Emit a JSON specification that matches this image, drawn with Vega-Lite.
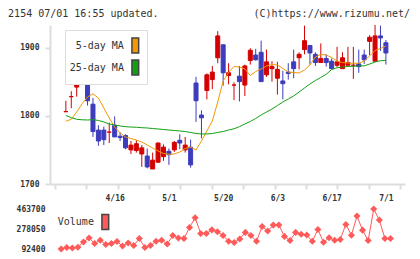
{
  "$schema": "https://vega.github.io/schema/vega-lite/v6.json",
  "background": "white",
  "padding": {"left": 8, "top": 8, "right": 10, "bottom": 5},
  "config": {
    "view": {"stroke": null},
    "font": "DejaVu Sans Mono",
    "axis": {"labelFont": "DejaVu Sans Mono", "labelFontSize": 8, "labelFontWeight": "bold", "labelColor": "#333333", "domainColor": "#dddddd", "tickColor": "#dddddd", "domainWidth": 2, "tickWidth": 2, "grid": false},
    "title": {"font": "DejaVu Sans Mono", "fontSize": 10, "fontWeight": "normal", "color": "#333333"},
    "legend": {"labelFont": "DejaVu Sans Mono", "labelFontSize": 10, "labelColor": "#333333"}
  },
  "title": {"text": "2154 07/01 16:55 updated.", "anchor": "start", "frame": "bounds", "dx": -8, "offset": -10},
  "spacing": 3,
  "resolve": {"scale": {"x": "independent", "y": "independent", "color": "independent"}},
  "datasets": {
    "candles": [
      {"i":0,"d":"4/3","o":1806,"h":1822,"l":1806,"c":1806,"vol":92400},
      {"i":1,"d":"4/6","o":1828,"h":1836,"l":1811,"c":1828,"vol":105500},
      {"i":2,"d":"4/7","o":1842,"h":1852,"l":1828,"c":1845,"vol":101800},
      {"i":3,"d":"4/8","o":1867,"h":1871,"l":1851,"c":1853,"vol":108300},
      {"i":4,"d":"4/9","o":1852,"h":1861,"l":1815,"c":1822,"vol":157900},
      {"i":5,"d":"4/10","o":1817,"h":1826,"l":1769,"c":1777,"vol":195300},
      {"i":6,"d":"4/13","o":1779,"h":1786,"l":1756,"c":1763,"vol":142900},
      {"i":7,"d":"4/14","o":1779,"h":1784,"l":1757,"c":1765,"vol":173800},
      {"i":8,"d":"4/15","o":1776,"h":1790,"l":1760,"c":1776,"vol":133600},
      {"i":9,"d":"4/16","o":1786,"h":1799,"l":1769,"c":1769,"vol":142900},
      {"i":10,"d":"4/17","o":1770,"h":1776,"l":1763,"c":1768,"vol":161600},
      {"i":11,"d":"4/20","o":1771,"h":1773,"l":1751,"c":1753,"vol":120500},
      {"i":12,"d":"4/21","o":1750,"h":1763,"l":1744,"c":1757,"vol":148500},
      {"i":13,"d":"4/22","o":1749,"h":1764,"l":1746,"c":1759,"vol":124200},
      {"i":14,"d":"4/23","o":1744,"h":1757,"l":1725,"c":1753,"vol":189700},
      {"i":15,"d":"4/24","o":1741,"h":1752,"l":1723,"c":1725,"vol":105500},
      {"i":16,"d":"4/27","o":1722,"h":1746,"l":1722,"c":1735,"vol":124200},
      {"i":17,"d":"4/28","o":1732,"h":1761,"l":1731,"c":1760,"vol":164400},
      {"i":18,"d":"4/30","o":1740,"h":1758,"l":1734,"c":1754,"vol":173800},
      {"i":19,"d":"5/1","o":1748,"h":1752,"l":1728,"c":1743,"vol":139200},
      {"i":20,"d":"5/7","o":1750,"h":1763,"l":1747,"c":1761,"vol":217700},
      {"i":21,"d":"5/8","o":1764,"h":1773,"l":1751,"c":1760,"vol":195300},
      {"i":22,"d":"5/11","o":1750,"h":1769,"l":1746,"c":1757,"vol":189700},
      {"i":23,"d":"5/12","o":1754,"h":1765,"l":1724,"c":1728,"vol":292600},
      {"i":24,"d":"5/13","o":1848,"h":1857,"l":1791,"c":1822,"vol":382300},
      {"i":25,"d":"5/14","o":1801,"h":1808,"l":1767,"c":1797,"vol":236400},
      {"i":26,"d":"5/15","o":1837,"h":1862,"l":1824,"c":1860,"vol":236400},
      {"i":27,"d":"5/18","o":1853,"h":1873,"l":1839,"c":1864,"vol":270100},
      {"i":28,"d":"5/19","o":1885,"h":1924,"l":1877,"c":1917,"vol":253300},
      {"i":29,"d":"5/20","o":1904,"h":1904,"l":1844,"c":1863,"vol":217700},
      {"i":30,"d":"5/21","o":1859,"h":1877,"l":1846,"c":1863,"vol":164400},
      {"i":31,"d":"5/22","o":1845,"h":1849,"l":1823,"c":1845,"vol":152300},
      {"i":32,"d":"5/25","o":1858,"h":1873,"l":1821,"c":1850,"vol":185900},
      {"i":33,"d":"5/26","o":1845,"h":1875,"l":1829,"c":1873,"vol":246700},
      {"i":34,"d":"5/27","o":1881,"h":1899,"l":1875,"c":1896,"vol":217700},
      {"i":35,"d":"5/28","o":1889,"h":1898,"l":1881,"c":1882,"vol":164400},
      {"i":36,"d":"5/29","o":1893,"h":1910,"l":1850,"c":1850,"vol":301900},
      {"i":37,"d":"6/1","o":1860,"h":1897,"l":1857,"c":1879,"vol":258900},
      {"i":38,"d":"6/2","o":1869,"h":1880,"l":1850,"c":1872,"vol":314100},
      {"i":39,"d":"6/3","o":1855,"h":1879,"l":1831,"c":1868,"vol":315900},
      {"i":40,"d":"6/4","o":1851,"h":1866,"l":1824,"c":1847,"vol":209300},
      {"i":41,"d":"6/5","o":1864,"h":1877,"l":1853,"c":1862,"vol":171000},
      {"i":42,"d":"6/8","o":1879,"h":1897,"l":1855,"c":1869,"vol":246700},
      {"i":43,"d":"6/9","o":1885,"h":1893,"l":1868,"c":1890,"vol":229900},
      {"i":44,"d":"6/10","o":1897,"h":1932,"l":1890,"c":1910,"vol":222400},
      {"i":45,"d":"6/11","o":1903,"h":1903,"l":1875,"c":1892,"vol":164400},
      {"i":46,"d":"6/12","o":1890,"h":1893,"l":1873,"c":1878,"vol":273800},
      {"i":47,"d":"6/15","o":1878,"h":1906,"l":1878,"c":1884,"vol":155100},
      {"i":48,"d":"6/16","o":1884,"h":1890,"l":1872,"c":1878,"vol":197200},
      {"i":49,"d":"6/17","o":1880,"h":1884,"l":1869,"c":1869,"vol":173800},
      {"i":50,"d":"6/18","o":1874,"h":1901,"l":1871,"c":1879,"vol":181300},
      {"i":51,"d":"6/19","o":1869,"h":1893,"l":1869,"c":1885,"vol":320600},
      {"i":52,"d":"6/22","o":1874,"h":1901,"l":1874,"c":1878,"vol":220500},
      {"i":53,"d":"6/23","o":1874,"h":1901,"l":1854,"c":1874,"vol":398200},
      {"i":54,"d":"6/24","o":1876,"h":1897,"l":1863,"c":1872,"vol":267300},
      {"i":55,"d":"6/25","o":1889,"h":1897,"l":1876,"c":1882,"vol":171000},
      {"i":56,"d":"6/26","o":1909,"h":1918,"l":1889,"c":1915,"vol":463700},
      {"i":57,"d":"6/29","o":1880,"h":1933,"l":1879,"c":1917,"vol":360800},
      {"i":58,"d":"6/30","o":1917,"h":1932,"l":1895,"c":1914,"vol":189700},
      {"i":59,"d":"7/1","o":1907,"h":1911,"l":1875,"c":1892,"vol":189700}
    ],
    "ma": [
      {"i":0,"s":"5-day MA","v":1791.9},{"i":1,"s":"5-day MA","v":1794.8},{"i":2,"s":"5-day MA","v":1805.5},{"i":3,"s":"5-day MA","v":1817.7},{"i":4,"s":"5-day MA","v":1827.5},
      {"i":5,"s":"5-day MA","v":1832.3},{"i":6,"s":"5-day MA","v":1826},{"i":7,"s":"5-day MA","v":1811.4},{"i":8,"s":"5-day MA","v":1796.7},{"i":9,"s":"5-day MA","v":1783.5},
      {"i":10,"s":"5-day MA","v":1774.7},{"i":11,"s":"5-day MA","v":1768.9},{"i":12,"s":"5-day MA","v":1766.7},{"i":13,"s":"5-day MA","v":1764.5},{"i":14,"s":"5-day MA","v":1761.5},
      {"i":15,"s":"5-day MA","v":1757.2},{"i":16,"s":"5-day MA","v":1752.8},{"i":17,"s":"5-day MA","v":1748.4},{"i":18,"s":"5-day MA","v":1744.7},{"i":19,"s":"5-day MA","v":1743.5},
      {"i":20,"s":"5-day MA","v":1744},{"i":21,"s":"5-day MA","v":1746.9},{"i":22,"s":"5-day MA","v":1752},{"i":23,"s":"5-day MA","v":1754.2},{"i":24,"s":"5-day MA","v":1749.8},
      {"i":25,"s":"5-day MA","v":1763},{"i":26,"s":"5-day MA","v":1777.7},{"i":27,"s":"5-day MA","v":1792.3},{"i":28,"s":"5-day MA","v":1820.2},{"i":29,"s":"5-day MA","v":1850.9},
      {"i":30,"s":"5-day MA","v":1863.4},{"i":31,"s":"5-day MA","v":1872.2},{"i":32,"s":"5-day MA","v":1871.5},{"i":33,"s":"5-day MA","v":1868.5},{"i":34,"s":"5-day MA","v":1859},
      {"i":35,"s":"5-day MA","v":1864.9},{"i":36,"s":"5-day MA","v":1868.5},{"i":37,"s":"5-day MA","v":1872.9},{"i":38,"s":"5-day MA","v":1875.1},{"i":39,"s":"5-day MA","v":1874.4},
      {"i":40,"s":"5-day MA","v":1869.3},{"i":41,"s":"5-day MA","v":1864.1},{"i":42,"s":"5-day MA","v":1863.4},{"i":43,"s":"5-day MA","v":1862.7},{"i":44,"s":"5-day MA","v":1867.1},
      {"i":45,"s":"5-day MA","v":1874.4},{"i":46,"s":"5-day MA","v":1886.1},{"i":47,"s":"5-day MA","v":1889.8},{"i":48,"s":"5-day MA","v":1889},{"i":49,"s":"5-day MA","v":1885.4},
      {"i":50,"s":"5-day MA","v":1880.2},{"i":51,"s":"5-day MA","v":1878},{"i":52,"s":"5-day MA","v":1877.3},{"i":53,"s":"5-day MA","v":1876.9},{"i":54,"s":"5-day MA","v":1876.9},
      {"i":55,"s":"5-day MA","v":1880.2},{"i":56,"s":"5-day MA","v":1887.6},{"i":57,"s":"5-day MA","v":1895.6},{"i":58,"s":"5-day MA","v":1898.6},{"i":59,"s":"5-day MA","v":1902.2},
      {"i":0,"s":"25-day MA","v":1800.4},{"i":1,"s":"25-day MA","v":1797.2},{"i":2,"s":"25-day MA","v":1794.8},{"i":3,"s":"25-day MA","v":1794.1},{"i":4,"s":"25-day MA","v":1793.8},
      {"i":5,"s":"25-day MA","v":1794.2},{"i":6,"s":"25-day MA","v":1793.1},{"i":7,"s":"25-day MA","v":1790.9},{"i":8,"s":"25-day MA","v":1787.9},{"i":9,"s":"25-day MA","v":1786.5},
      {"i":10,"s":"25-day MA","v":1785},{"i":11,"s":"25-day MA","v":1784},{"i":12,"s":"25-day MA","v":1783.5},{"i":13,"s":"25-day MA","v":1783.1},{"i":14,"s":"25-day MA","v":1782.5},
      {"i":15,"s":"25-day MA","v":1782.1},{"i":16,"s":"25-day MA","v":1781.3},{"i":17,"s":"25-day MA","v":1780.6},{"i":18,"s":"25-day MA","v":1779.9},{"i":19,"s":"25-day MA","v":1779.1},
      {"i":20,"s":"25-day MA","v":1778.4},{"i":21,"s":"25-day MA","v":1777.7},{"i":22,"s":"25-day MA","v":1776.9},{"i":23,"s":"25-day MA","v":1775.5},{"i":24,"s":"25-day MA","v":1774},
      {"i":25,"s":"25-day MA","v":1773.3},{"i":26,"s":"25-day MA","v":1773.3},{"i":27,"s":"25-day MA","v":1774},{"i":28,"s":"25-day MA","v":1775.5},{"i":29,"s":"25-day MA","v":1776.9},
      {"i":30,"s":"25-day MA","v":1779.1},{"i":31,"s":"25-day MA","v":1780.9},{"i":32,"s":"25-day MA","v":1784},{"i":33,"s":"25-day MA","v":1787.9},{"i":34,"s":"25-day MA","v":1791.6},
      {"i":35,"s":"25-day MA","v":1796},{"i":36,"s":"25-day MA","v":1801.1},{"i":37,"s":"25-day MA","v":1805.5},{"i":38,"s":"25-day MA","v":1809.9},{"i":39,"s":"25-day MA","v":1815},
      {"i":40,"s":"25-day MA","v":1820.2},{"i":41,"s":"25-day MA","v":1824.6},{"i":42,"s":"25-day MA","v":1829},{"i":43,"s":"25-day MA","v":1834.8},{"i":44,"s":"25-day MA","v":1840.7},
      {"i":45,"s":"25-day MA","v":1846.5},{"i":46,"s":"25-day MA","v":1851.7},{"i":47,"s":"25-day MA","v":1856.1},{"i":48,"s":"25-day MA","v":1860.8},{"i":49,"s":"25-day MA","v":1867.8},
      {"i":50,"s":"25-day MA","v":1870.3},{"i":51,"s":"25-day MA","v":1871.5},{"i":52,"s":"25-day MA","v":1872.2},{"i":53,"s":"25-day MA","v":1872.6},{"i":54,"s":"25-day MA","v":1872.9},
      {"i":55,"s":"25-day MA","v":1873.2},{"i":56,"s":"25-day MA","v":1875.8},{"i":57,"s":"25-day MA","v":1878.8},{"i":58,"s":"25-day MA","v":1880.7},{"i":59,"s":"25-day MA","v":1881.3}
    ]
  },
  "vconcat": [
    {
      "width": 355,
      "height": 159,
      "title": {"text": "(C)https://www.rizumu.net/", "anchor": "end", "frame": "group", "dx": 5, "offset": 6},
      "data": {"name": "candles"},
      "encoding": {
        "x": {
          "field": "i", "type": "quantitative",
          "scale": {"domain": [-2, 61.6], "nice": false, "zero": false},
          "axis": {
            "title": null,
            "values": [-2, 3.782, 9, 9.564, 15.345, 19, 21.127, 26.909, 29, 32.691, 38.473, 39, 44.255, 49, 50.036, 55.818, 59, 61.6],
            "labelExpr": "datum.value == 9 ? '4/16' : datum.value == 19 ? '5/1' : datum.value == 29 ? '5/20' : datum.value == 39 ? '6/3' : datum.value == 49 ? '6/17' : datum.value == 59 ? '7/1' : ''",
            "tickColor": {"condition": {"test": "datum.value % 10 == 9", "value": "transparent"}, "value": "#dddddd"},
            "tickSize": 5,
            "labelPadding": 5,
            "labelFlush": 15,
            "labelFlushOffset": -3,
            "labelOverlap": false,
            "labelBound": false
          }
        }
      },
      "layer": [
        {
          "mark": {"type": "rule", "strokeWidth": 1},
          "encoding": {
            "y": {"field": "l", "type": "quantitative", "scale": {"domain": [1700, 1933], "nice": false, "zero": false},
                  "axis": {"title": null, "values": [1700, 1800, 1900], "format": "d", "tickSize": 5, "labelPadding": 6}},
            "y2": {"field": "h"},
            "color": {"condition": {"test": "datum.c >= datum.o", "value": "#d40000"}, "value": "#3c3cbc"}
          }
        },
        {
          "mark": {"type": "bar", "width": 4, "strokeWidth": 1},
          "encoding": {
            "y": {"field": "o", "type": "quantitative"},
            "y2": {"field": "c"},
            "fill": {"condition": {"test": "datum.c >= datum.o", "value": "#d40000"}, "value": "#3c3cbc"},
            "stroke": {"condition": {"test": "datum.c >= datum.o", "value": "#d40000"}, "value": "#3c3cbc"}
          }
        },
        {
          "data": {"name": "ma"},
          "mark": {"type": "line", "strokeWidth": 1},
          "encoding": {
            "y": {"field": "v", "type": "quantitative"},
            "stroke": {"field": "s", "type": "nominal", "scale": {"domain": ["5-day MA", "25-day MA"], "range": ["#f39800", "#12a012"]}, "legend": null}
          }
        },
        {
          "data": {"name": "ma"},
          "mark": {"type": "square", "size": 0, "opacity": 1},
          "encoding": {
            "y": {"field": "v", "type": "quantitative"},
            "color": {
              "field": "s", "type": "nominal",
              "scale": {"domain": ["5-day MA", "25-day MA"], "range": ["#f39800", "#12a012"]},
              "legend": {
                "orient": "none", "legendX": 15, "legendY": 5,
                "title": null,
                "direction": "vertical",
                "symbolType": "M-0.355,-0.79L0.355,-0.79L0.355,0.79L-0.355,0.79Z",
                "symbolSize": 361,
                "symbolStrokeColor": "#444444",
                "symbolStrokeWidth": 1.5,
                "labelAlign": "right",
                "labelOffset": -21.9,
                "symbolOffset": 54.8,
                "rowPadding": -2,
                "padding": 5,
                "fillColor": "white",
                "strokeColor": "#dddddd"
              }
            }
          }
        }
      ]
    },
    {
      "width": 355,
      "height": 40,
      "data": {"name": "candles"},
      "encoding": {
        "x": {"field": "i", "type": "quantitative", "scale": {"domain": [-2, 61.6], "nice": false, "zero": false}, "axis": null},
        "y": {"field": "vol", "type": "quantitative", "scale": {"domain": [92400, 463700], "nice": false, "zero": false},
              "axis": {"title": null, "values": [92400, 278050, 463700], "format": "d", "domain": false, "ticks": false, "labelPadding": 5}}
      },
      "layer": [
        {"mark": {"type": "line", "color": "#ff5a5a", "strokeWidth": 1}},
        {
          "mark": {"type": "point", "shape": "diamond", "filled": true, "size": 50, "opacity": 1},
          "encoding": {
            "color": {
              "datum": "Volume", "type": "nominal",
              "scale": {"range": ["#ff5a5a"]},
              "legend": {
                "orient": "none", "legendX": 8.7, "legendY": 4.5,
                "title": null,
                "symbolType": "M-0.45,-1L0.45,-1L0.45,1L-0.45,1Z",
                "symbolSize": 225,
                "symbolStrokeColor": "#444444",
                "symbolStrokeWidth": 1.5,
                "labelAlign": "right",
                "labelOffset": -19.9,
                "symbolOffset": 38.1,
                "padding": 0
              }
            }
          }
        }
      ]
    }
  ]
}
